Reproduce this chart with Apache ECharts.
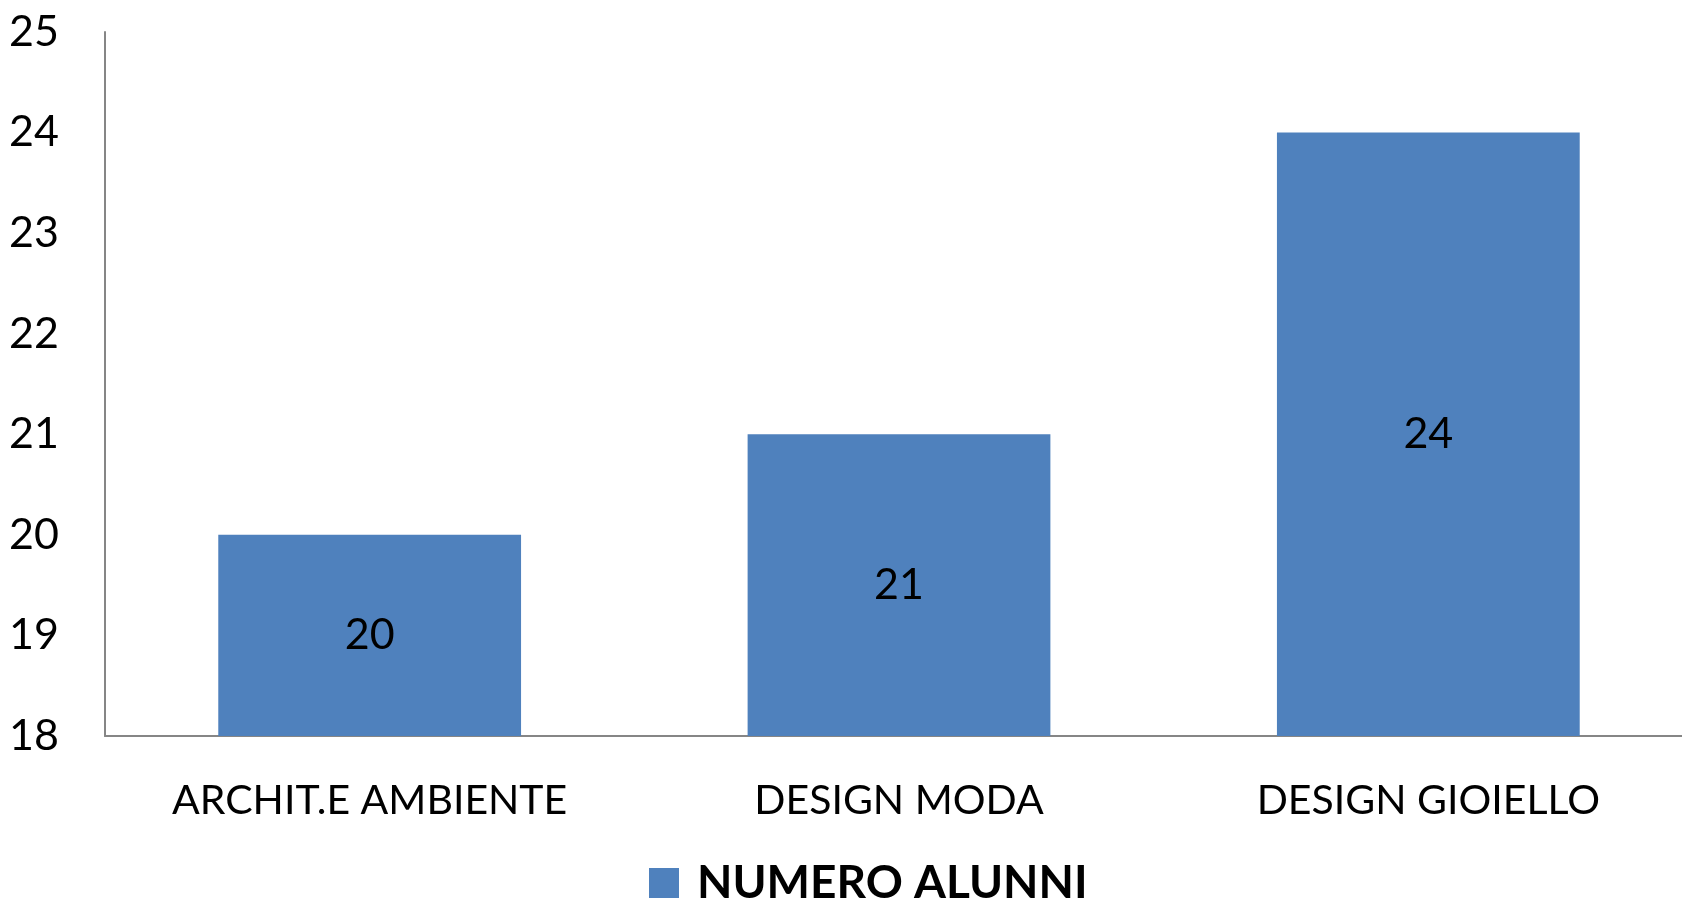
<!DOCTYPE html>
<html lang="it">
<head>
    <meta charset="UTF-8">
    <title>Numero alunni</title>
    <script src="https://cdn.jsdelivr.net/npm/echarts@6/dist/echarts.min.js"></script>
    <style>
        html, body { margin: 0; padding: 0; background: #fff; }
        #paint { width: 1682px; height: 902px; }
    </style>
</head>
<body>
<div id="paint"></div>
<script type="text/javascript">
    var categories = ['ARCHIT.E AMBIENTE', 'DESIGN MODA', 'DESIGN GIOIELLO'];
    var alunni = [20, 21, 24];
    var seriesName = 'NUMERO ALUNNI';
    var yMin = 18, yMax = 25, yStep = 1;

    var font = 'Lato, "Open Sans", sans-serif';
    var myChart = echarts.init(document.getElementById('paint'));

    var option = {
        animation: false,
        color: ['#4F81BD'],
        grid: { left: 105, top: 32, right: -11, bottom: 166, outerBoundsMode: 'none' },
        legend: {
            left: 649,
            top: 860,
            padding: 0,
            itemWidth: 30,
            itemHeight: 30,
            icon: 'rect',
            textStyle: {
                fontFamily: font, fontSize: 46, fontWeight: 'bold', color: '#000',
                lineHeight: 46,
                padding: [0, 0, 0, 13]
            },
            data: [seriesName]
        },
        xAxis: {
            type: 'category',
            data: categories,
            axisLine: { lineStyle: { color: '#868686', width: 2 } },
            axisTick: { show: false },
            axisLabel: { fontFamily: font, fontSize: 41, color: '#000', margin: 44 }
        },
        yAxis: {
            type: 'value',
            min: yMin, max: yMax, interval: yStep,
            axisLine: { show: true, lineStyle: { color: '#868686', width: 2 } },
            axisTick: { show: false },
            splitLine: { show: false },
            axisLabel: { fontFamily: font, fontSize: 43, color: '#000', margin: 46 }
        },
        series: [{
            name: seriesName,
            type: 'bar',
            data: alunni,
            barWidth: '57.2%',
            label: {
                show: true, position: 'inside',
                fontFamily: font, fontSize: 43, color: '#000'
            }
        }]
    };
    myChart.setOption(option);
</script>
</body>
</html>
